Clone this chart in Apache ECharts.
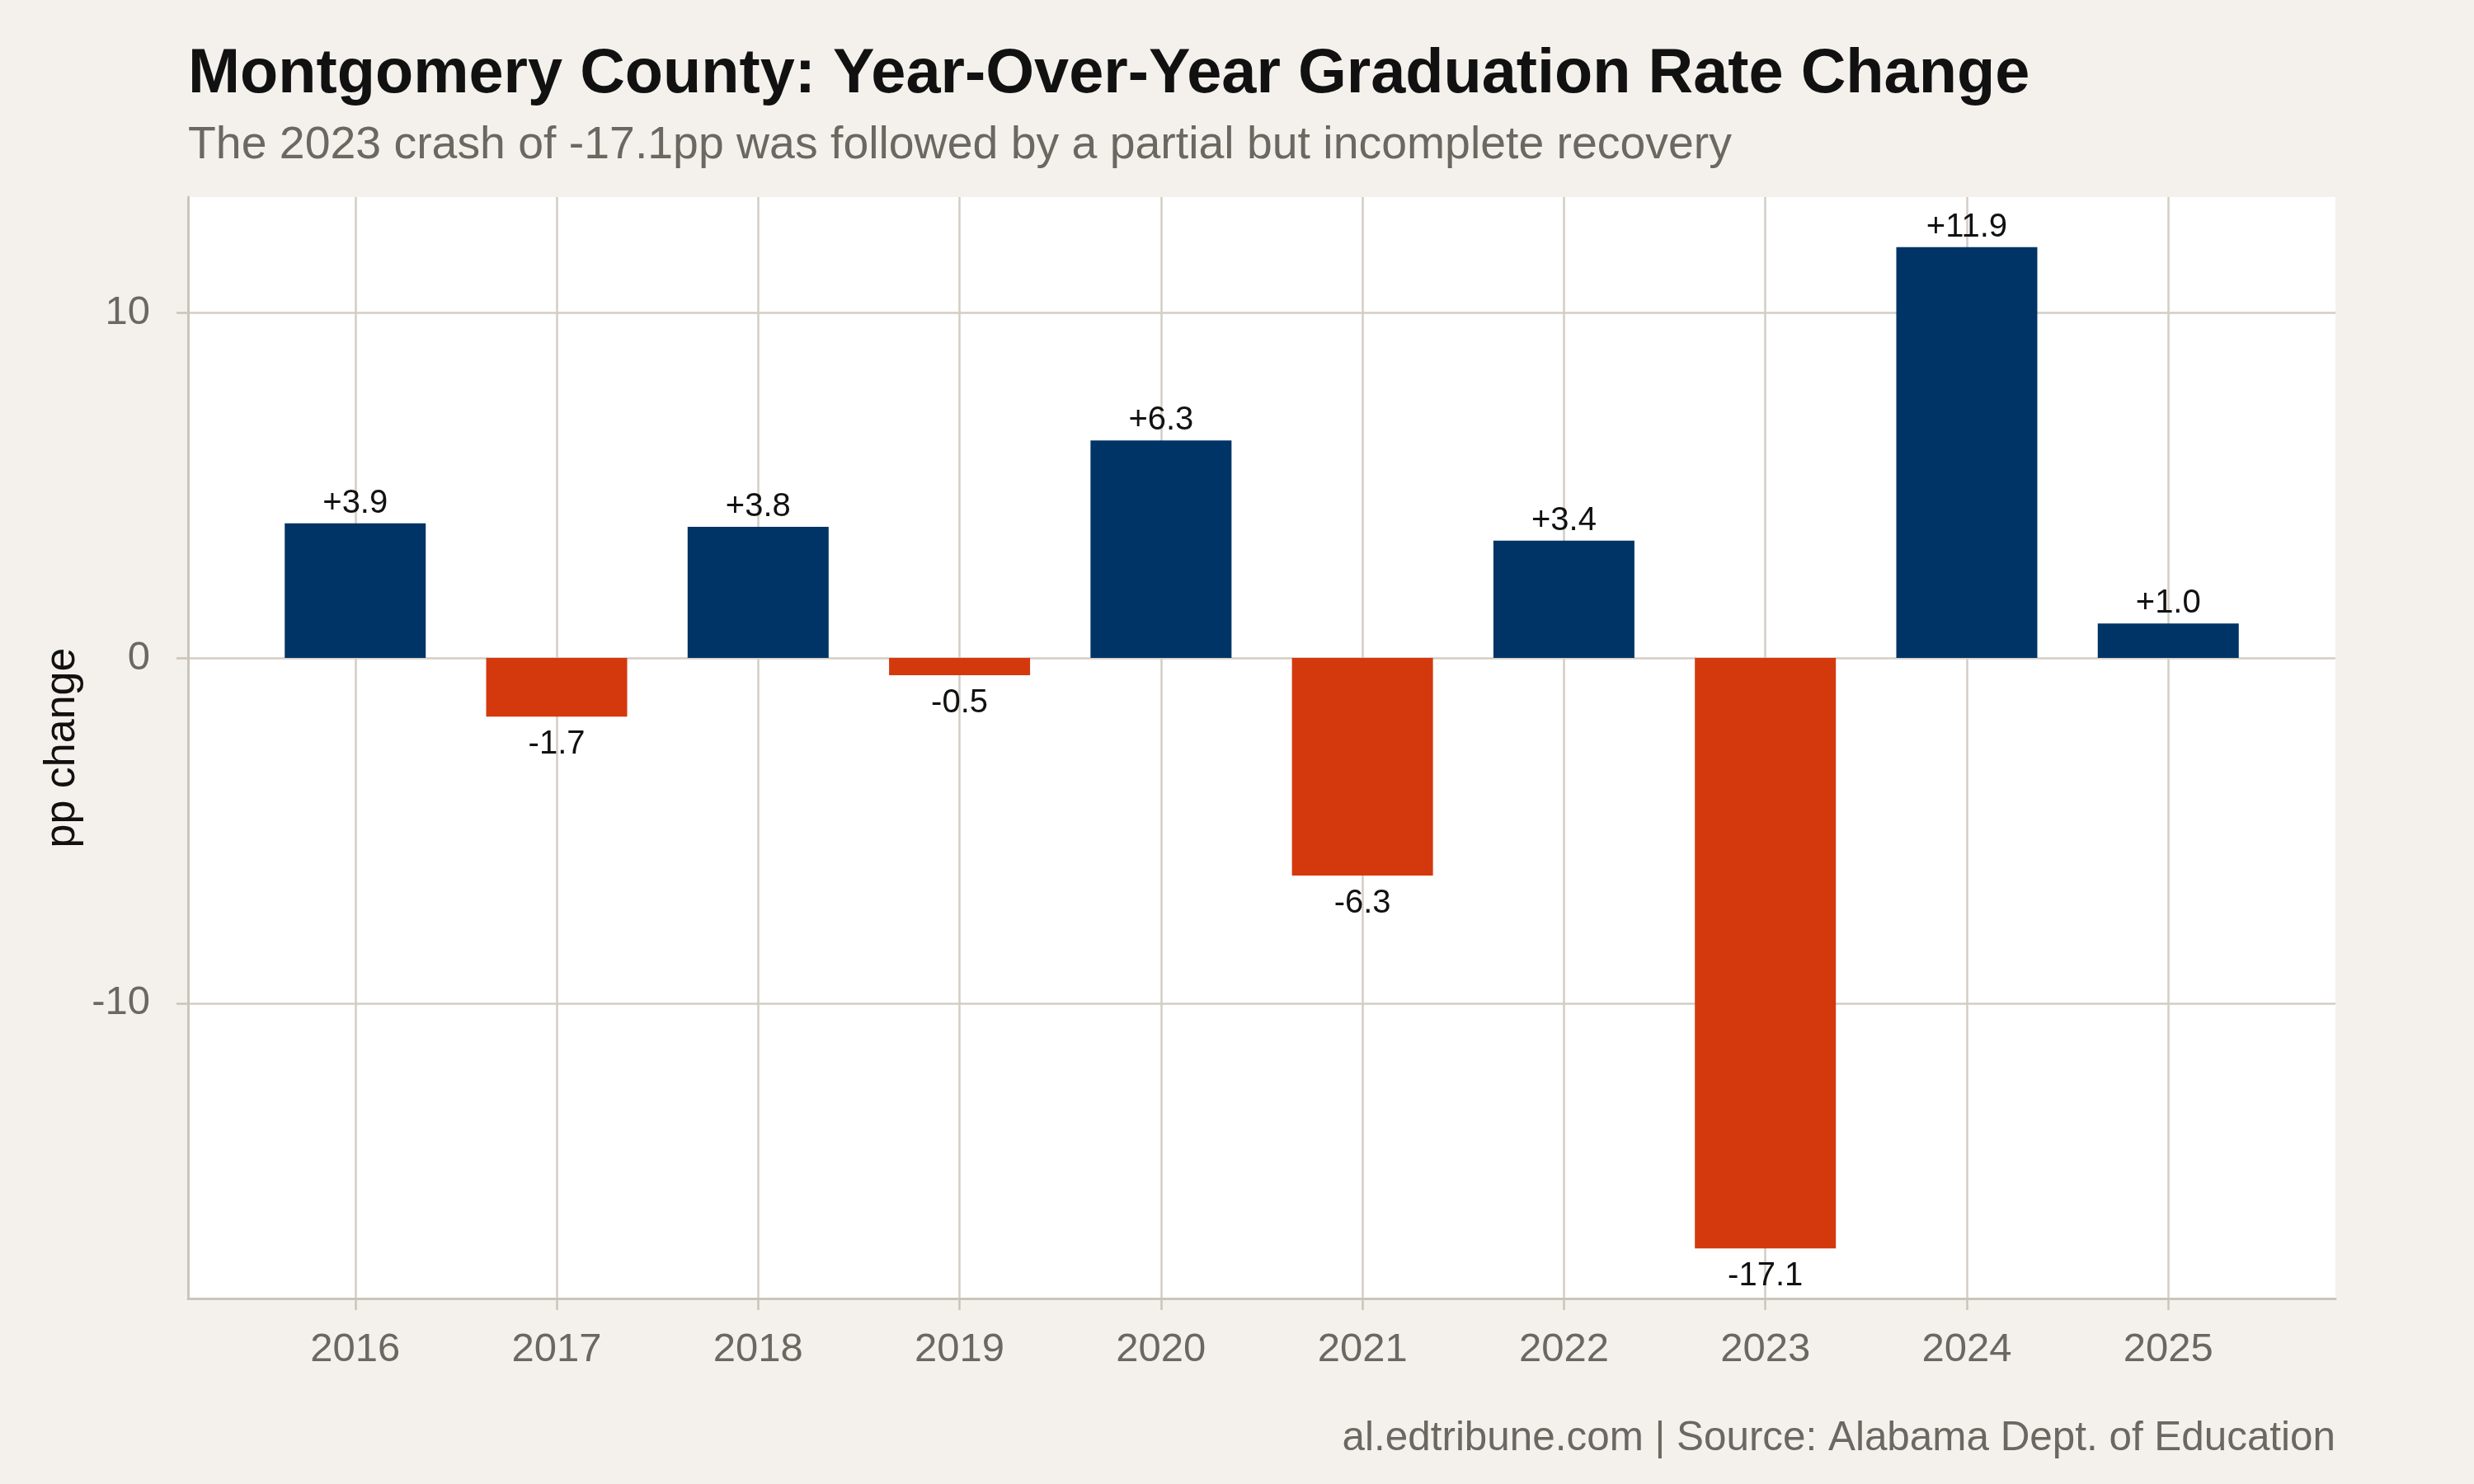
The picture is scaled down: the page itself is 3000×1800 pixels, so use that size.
<!DOCTYPE html>
<html>
<head>
<meta charset="utf-8">
<script src="https://cdn.jsdelivr.net/npm/echarts@6/dist/echarts.min.js"></script>
<style>
  html, body { margin: 0; padding: 0; background: #f4f1ec; }
  #chart { width: 3000px; height: 1800px; }
</style>
</head>
<body>
<div id="chart"></div>
<script>
const years   = ['2016', '2017', '2018', '2019', '2020', '2021', '2022', '2023', '2024', '2025'];
const changes = [3.9, -1.7, 3.8, -0.5, 6.3, -6.3, 3.4, -17.1, 11.9, 1.0];
const yTicks  = [-10, 0, 10];

const UP   = '#003466';
const DOWN = '#d4390e';
const GRID = '#d3cdc4';
const AXIS = '#cbc4b9';
const GREY = '#6b6761';
const FONT = '"Liberation Sans", Arial, Helvetica, sans-serif';

const chart = echarts.init(document.getElementById('chart'));

let idx = [];
let bars = [];
for (let i = 0; i < years.length; i++) {
    idx.push(i);
    let v = changes[i];
    bars.push({
        value: [i, v],
        itemStyle: { color: v >= 0 ? UP : DOWN },
        label: { position: v >= 0 ? 'top' : 'bottom', distance: v >= 0 ? 4 : 14 }
    });
}

let option = {
    backgroundColor: '#f4f1ec',
    animation: false,
    title: [
        {
            text: 'Montgomery County: Year-Over-Year Graduation Rate Change',
            left: 228, top: 53, padding: 0,
            textStyle: { fontFamily: FONT, fontSize: 75.7, fontWeight: 'bold', color: '#111111' }
        },
        {
            text: 'The 2023 crash of -17.1pp was followed by a partial but incomplete recovery',
            left: 228, top: 149, padding: 0,
            textStyle: { fontFamily: FONT, fontSize: 55.4, fontWeight: 'normal', color: GREY }
        },
        {
            text: 'al.edtribune.com | Source: Alabama Dept. of Education',
            right: 168, top: 1721, padding: 0,
            textStyle: { fontFamily: FONT, fontSize: 49.4, fontWeight: 'normal', color: GREY }
        }
    ],
    graphic: [
        {
            type: 'text',
            x: 76, y: 907,
            rotation: Math.PI / 2,
            style: {
                text: 'pp change',
                font: '52px ' + FONT,
                fill: '#111111',
                align: 'center',
                verticalAlign: 'middle'
            }
        }
    ],
    grid: {
        left: 228, right: 168, top: 239, bottom: 225,
        show: true, backgroundColor: '#ffffff', borderWidth: 0
    },
    xAxis: {
        type: 'value',
        min: -0.83,
        max: years.length - 1 + 0.83,
        axisLine: { show: true, onZero: false, lineStyle: { color: AXIS, width: 3 } },
        axisTick: { show: true, customValues: idx, length: 14, lineStyle: { color: AXIS, width: 2.5 } },
        axisLabel: {
            customValues: idx,
            margin: 38,
            fontFamily: FONT, fontSize: 49, color: GREY,
            formatter: v => years[Math.round(v)]
        },
        splitLine: { show: true, lineStyle: { color: GRID, width: 2.5 } }
    },
    yAxis: {
        type: 'value',
        min: -18.55,
        max: 13.35,
        axisLine: { show: true, onZero: false, lineStyle: { color: AXIS, width: 3 } },
        axisTick: { show: true, customValues: yTicks, length: 14, lineStyle: { color: AXIS, width: 2.5 } },
        axisLabel: {
            customValues: yTicks,
            margin: 46,
            fontFamily: FONT, fontSize: 49, color: GREY
        },
        splitLine: { show: true, lineStyle: { color: GRID, width: 2.5 } }
    },
    series: [
        {
            type: 'bar',
            data: bars,
            barWidth: 171,
            label: {
                show: true,
                fontFamily: FONT, fontSize: 40, color: '#111111',
                formatter: p => {
                    let v = p.value[1];
                    return (v > 0 ? '+' : '') + v.toFixed(1);
                }
            }
        }
    ]
};

chart.setOption(option);
</script>
</body>
</html>
